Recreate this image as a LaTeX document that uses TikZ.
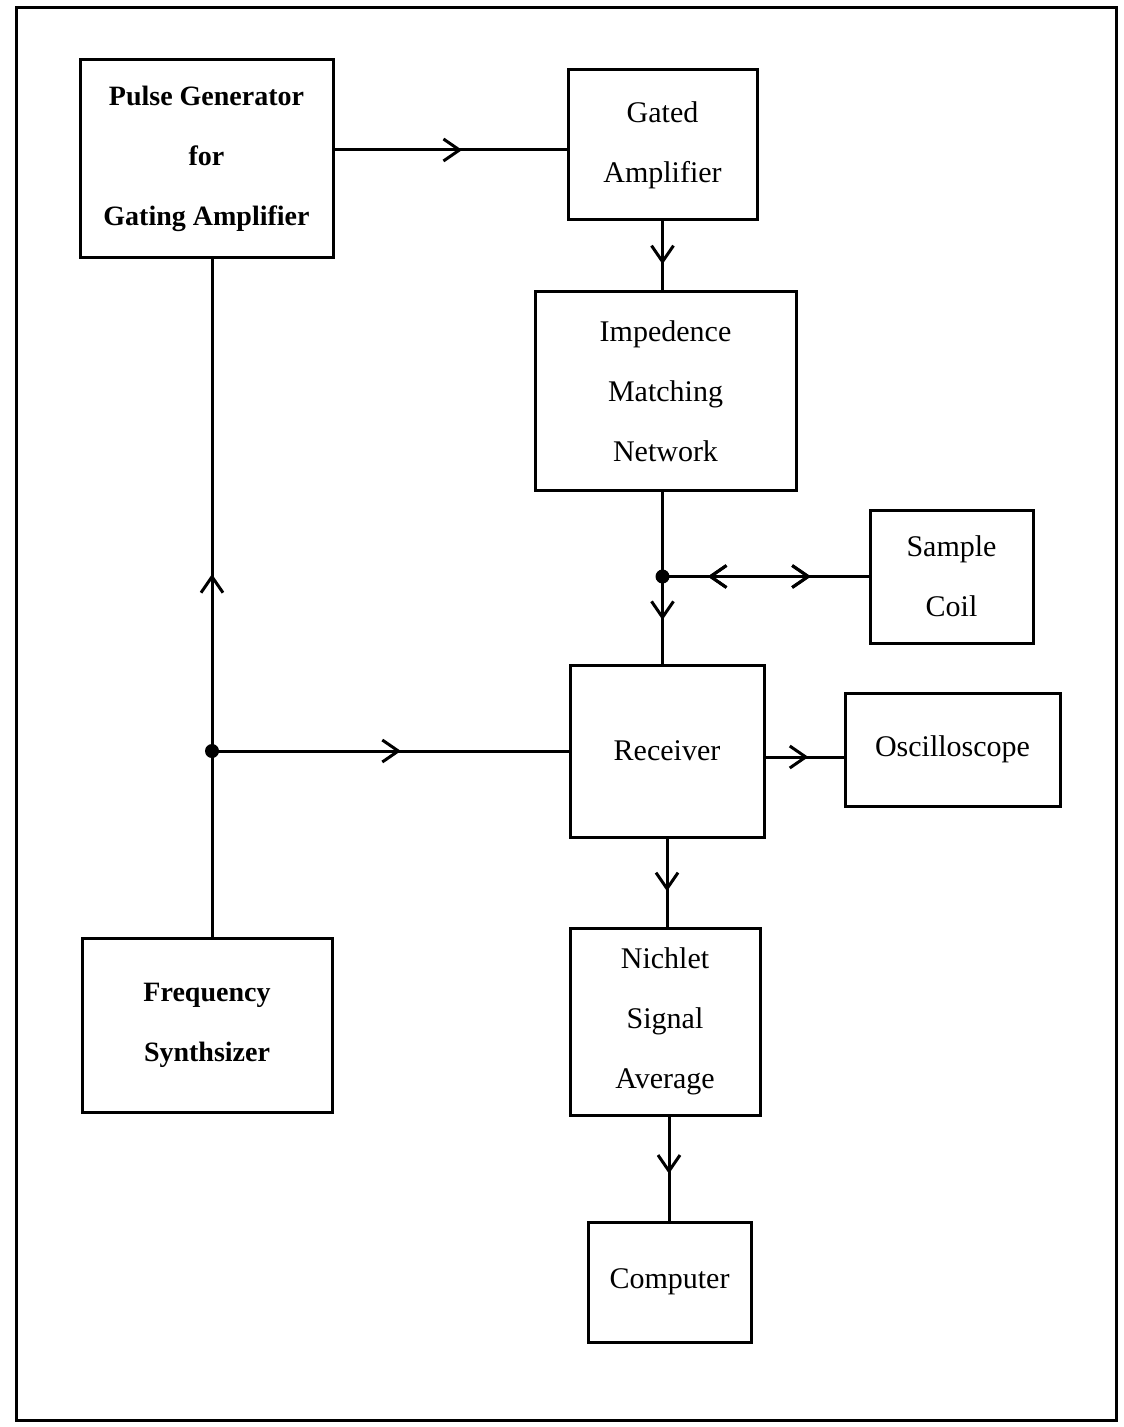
\documentclass[tikz,border=0pt]{standalone}
\usepackage{fontspec}
\setmainfont{Liberation Serif}
\usetikzlibrary{arrows.meta,decorations.markings,calc}

\tikzset{
  block/.style={draw, line width=1.5pt, align=center,
    font=\fontsize{15}{30}\selectfont},
  heavy/.style={font=\bfseries\fontsize{14}{30}\selectfont},
  wire/.style={line width=1.5pt},
  arrowat/.style={postaction={decorate}, decoration={markings,
    mark=at position #1 with {\arrow[line width=1.5pt]{Straight Barb[length=8pt,width=11pt]}}}},
  backat/.style={postaction={decorate}, decoration={markings,
    mark=at position #1 with {\arrowreversed[line width=1.5pt]{Straight Barb[length=8pt,width=11pt]}}}},
  junction/.style={circle, fill, inner sep=0pt, minimum size=7pt}
}

\begin{document}
\begin{tikzpicture}[x=0.5pt,y=-0.5pt]
  \useasboundingbox (0,0) rectangle (1123,1427);
  % Rahmen
  \draw[line width=1.5pt] (16,8) rectangle (1116,1420);

  % Blöcke
  \node[block, heavy, minimum width=126.5pt, minimum height=99pt] (pulse) at (206.5,159)
    {Pulse Generator\\for\\Gating Amplifier};
  \node[block, minimum width=94.5pt, minimum height=75pt] (gated) at (662.5,145)
    {Gated\\Amplifier};
  \node[block, minimum width=130.5pt, minimum height=99pt] (imp) at (665.5,391)
    {Impedence\\Matching\\Network};
  \node[block, minimum width=81.5pt, minimum height=66.5pt] (coil) at (951.5,576.5)
    {Sample\\Coil};
  \node[block, minimum width=97pt, minimum height=86pt] (recv) at (667,751)
    {Receiver};
  \node[block, minimum width=107.5pt, minimum height=56.5pt] (osc) at (952.5,749.5)
    {Oscilloscope};
  \node[block, minimum width=95pt, minimum height=93.5pt] (avg) at (665,1021.5)
    {Nichlet\\Signal\\Average};
  \node[block, heavy, minimum width=125pt, minimum height=87pt] (freq) at (207,1025)
    {Frequency\\Synthsizer};
  \node[block, minimum width=81.5pt, minimum height=60pt] (comp) at (669.5,1282)
    {Computer};

  % Verzweigungen
  \coordinate (tap) at ($(imp.south)+(-3,0)$);
  \coordinate (fqtop) at ($(freq.north)+(5,0)$);
  \node[junction] (tapdot) at (tap |- coil.west) {};
  \node[junction] (split) at (fqtop |- recv.west) {};

  % Verbindungen
  \draw[wire, arrowat=0.55] ([yshift=4.5pt]pulse.east) -- ([yshift=4.5pt]pulse.east -| gated.west);
  \draw[wire, arrowat=0.62] (gated.south) -- (gated.south |- imp.north);
  \draw[wire] (tap) -- (tapdot.center);
  \draw[wire, arrowat=0.5] (tapdot.center) -- (tap |- recv.north);
  \draw[wire, backat=0.22, arrowat=0.72] (tapdot.center) -- (tapdot.center -| coil.west);
  \draw[wire] (fqtop) -- (split.center);
  \draw[wire, arrowat=0.36] (split.center) -- (split.center |- pulse.south);
  \draw[wire, arrowat=0.53] (split.center) -- (split.center -| recv.west);
  \draw[wire, arrowat=0.55] ([yshift=-3pt]recv.east) -- ([yshift=-3pt]recv.east -| osc.west);
  \draw[wire, arrowat=0.6] (recv.south) -- (recv.south |- avg.north);
  \draw[wire, arrowat=0.55] ([xshift=2pt]avg.south) -- ([xshift=2pt]avg.south |- comp.north);
\end{tikzpicture}
\end{document}
